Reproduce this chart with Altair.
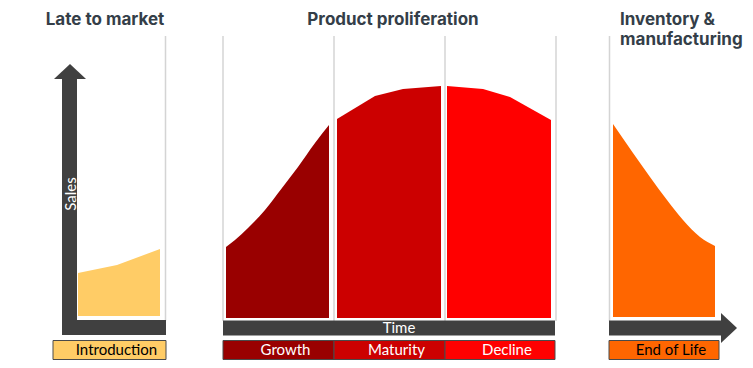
import altair as alt
import pandas as pd

# ---------------- data (time units on x, sales level on y) ----------------
intro_t = [78, 117, 160]
intro_s = [45, 53, 69]
growth_t = [226, 235, 248, 265, 282, 298, 315, 329]
growth_s = [71, 78, 90, 108, 130, 151, 175, 193]
maturity_t = [337, 375, 403, 441]
maturity_s = [199, 222, 229, 232]
decline_t = [447, 483, 510, 551]
decline_s = [232, 229, 221, 198]
eol_t = [613, 633, 650, 667, 683, 700, 715]
eol_s = [194, 165, 141, 118, 98, 81, 72]

stages = ["Introduction", "Growth", "Maturity", "Decline", "End of Life"]
stage_colors = ["#FFCC66", "#990000", "#CC0000", "#FF0000", "#FF6600"]
stage_text = ["black", "white", "white", "white", "black"]
stage_start = [53, 223, 334, 445, 609]
stage_end = [166, 334, 445, 555, 719]

divider_t = [165.5, 223, 334, 445, 556, 609.5]

titles = ["Late to market", "Product proliferation", "Inventory &", "manufacturing"]

TITLE_COLOR = "#343e48"
AXIS_COLOR = "#404040"
FONT = "Lato"
TFONT = "Inter"

X = lambda f="t": alt.X(f"{f}:Q", scale=alt.Scale(domain=[8, 745], nice=False, zero=False), axis=None)
Y = lambda f="s": alt.Y(f"{f}:Q", scale=alt.Scale(domain=[-42, 310], nice=False, zero=False), axis=None)

layers = []

# divider gridlines
grid = pd.DataFrame({"t": divider_t, "s": [282] * len(divider_t), "s2": [-3] * len(divider_t)})
layers.append(alt.Chart(grid).mark_rule(color="#d4d4d4", strokeWidth=1.5).encode(
    x=X(), y=Y(), y2="s2:Q"))

# stage areas
def area(ts, ss, base, color, interp):
    df = pd.DataFrame({"t": ts, "s": ss, "b": [base] * len(ts)})
    return alt.Chart(df).mark_area(color=color, interpolate=interp, opacity=1).encode(
        x=X(), y=Y(), y2="b:Q")

layers.append(area(intro_t, intro_s, 2, stage_colors[0], "linear"))
layers.append(area(growth_t, growth_s, 0, stage_colors[1], "monotone"))
layers.append(area(maturity_t, maturity_s, 0, stage_colors[2], "linear"))
layers.append(area(decline_t, decline_s, 0, stage_colors[3], "linear"))
layers.append(area(eol_t, eol_s, 1, stage_colors[4], "monotone"))

# axes bars (sales axis, time axes)
bars = pd.DataFrame({
    "t": [62, 62, 223, 609],
    "t2": [77, 166, 555, 721],
    "s": [239, -2, -2.5, -2.5],
    "s2": [-17, -17, -17.5, -17.5],
})
layers.append(alt.Chart(bars).mark_rect(color=AXIS_COLOR).encode(
    x=X(), x2="t2:Q", y=Y(), y2="s2:Q"))

# arrow heads
up = pd.DataFrame({"t": [54, 70, 86], "s": [239, 254, 239], "b": [239] * 3})
layers.append(alt.Chart(up).mark_area(color=AXIS_COLOR, interpolate="linear").encode(
    x=X(), y=Y(), y2="b:Q"))
right = pd.DataFrame({"s": [5, -10, -25], "t": [721, 737, 721], "b": [721] * 3})
layers.append(alt.Chart(right).mark_area(color=AXIS_COLOR, orient="horizontal", interpolate="linear").encode(
    y=Y(), x=X(), x2="b:Q"))

# axis labels
layers.append(alt.Chart(pd.DataFrame({"t": [70.5], "s": [124], "l": ["Sales"]})).mark_text(
    angle=270, color="white", font=FONT, fontSize=15, baseline="middle", align="center").encode(
    x=X(), y=Y(), text="l:N"))
layers.append(alt.Chart(pd.DataFrame({"t": [399], "s": [-10], "l": ["Time"]})).mark_text(
    color="white", font=FONT, fontSize=15, baseline="middle", align="center").encode(
    x=X(), y=Y(), text="l:N"))

# stage label boxes
boxes = pd.DataFrame({
    "stage": stages, "t": stage_start, "t2": stage_end,
    "s": [-22.5] * 5, "s2": [-41.5] * 5,
    "fill": stage_colors, "tc": stage_text,
    "mid": [(a + b) / 2 + 7 for a, b in zip(stage_start, stage_end)],
    "sm": [-32] * 5,
})
layers.append(alt.Chart(boxes).mark_rect(stroke="#4a4a4a", strokeWidth=1).encode(
    x=X(), x2="t2:Q", y=Y(), y2="s2:Q", fill=alt.Fill("fill:N", scale=None)))
layers.append(alt.Chart(boxes).mark_text(font=FONT, fontSize=15, baseline="middle", align="center").encode(
    x=X("mid"), y=Y("sm"), text="stage:N", color=alt.Color("tc:N", scale=None)))

# titles
tdf = pd.DataFrame({"l": titles, "t": [105, 393, 620, 620], "s": [293, 293, 293, 273],
                    "a": ["center", "center", "left", "left"]})
for i in range(len(titles)):
    layers.append(alt.Chart(tdf.iloc[[i]]).mark_text(
        font=TFONT, fontSize=17, fontWeight="bold", color=TITLE_COLOR,
        baseline="alphabetic", align=tdf["a"][i]).encode(x=X(), y=Y(), text="l:N"))

chart = alt.layer(*layers).properties(
    width=737, height=352, padding=0, autosize=alt.AutoSizeParams(type="none")
).configure_view(strokeWidth=0)

chart.save("out.html", embed_options={"renderer": "svg", "actions": False})
